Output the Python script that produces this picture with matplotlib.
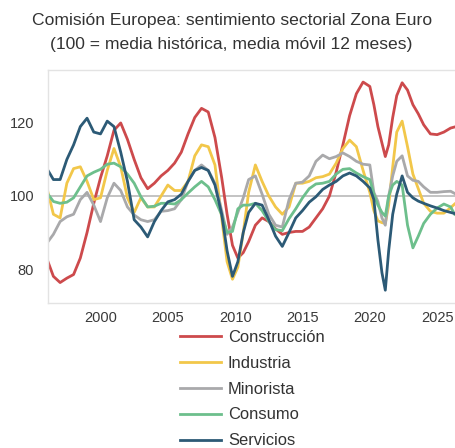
import matplotlib
matplotlib.use("Agg")
import matplotlib.pyplot as plt

plt.rcParams['font.family'] = ['Liberation Sans', 'DejaVu Sans']

years = [1996.1, 1996.5, 1997.0, 1997.5, 1998.0, 1998.5, 1999.0, 1999.5, 2000.0, 2000.5,
         2001.0, 2001.5, 2002.0, 2002.5, 2003.0, 2003.5, 2004.0, 2004.5, 2005.0, 2005.5,
         2006.0, 2006.5, 2007.0, 2007.5, 2008.0, 2008.5, 2009.0, 2009.4, 2009.8, 2010.2,
         2010.6, 2011.0, 2011.5, 2012.0, 2012.5, 2013.0, 2013.5, 2014.0, 2014.5, 2015.0,
         2015.5, 2016.0, 2016.5, 2017.0, 2017.5, 2018.0, 2018.5, 2019.0, 2019.5, 2020.0,
         2020.3, 2020.6, 2020.9, 2021.15, 2021.4, 2021.7, 2022.0, 2022.4, 2022.8, 2023.2,
         2023.6, 2024.0, 2024.5, 2025.0, 2025.5, 2026.0, 2026.3]

construccion = [82, 78, 76.3, 77.5, 78.5, 83, 90, 98, 105, 111,
                118, 120, 115.5, 110, 105, 102, 103.5, 105.5, 107, 109,
                112, 117, 121.5, 124, 123, 116, 105, 95, 86.5, 83,
                84.5, 87.5, 92, 94, 93, 91, 89.5, 90, 90.3, 90.3,
                91.5, 94, 96.5, 100, 106.5, 114, 122, 128, 131.2, 130,
                125, 119, 114.5, 110.8, 114, 121.5, 127.5, 131, 129, 125,
                122.5, 119.5, 117, 116.8, 117.5, 118.6, 118.9]

industria = [101, 95, 94, 103.5, 107.5, 108, 104, 99, 99.5, 107,
             113, 108, 99.5, 95.5, 99.5, 97, 97, 100, 103, 101.5,
             101.5, 104, 111, 114, 113.5, 108.5, 94, 82, 77.2, 80.5,
             90, 101, 108.5, 104, 100, 97, 95, 97, 103.5, 103.5,
             104, 105, 105.3, 106, 109, 113, 115.3, 113.5, 107, 101,
             96, 93.2, 92.7, 92.5, 97.5, 108, 117.5, 120.5, 113.5, 106,
             102, 98, 95.8, 95.3, 95.3, 96.8, 97.8]

minorista = [87.5, 89.5, 93, 94.3, 95, 99, 101, 97.5, 93, 99.5,
             103.5, 101.5, 97, 94.8, 93.5, 93, 93.5, 95.8, 96, 96.5,
             99, 104, 107, 108.5, 107, 103.5, 96, 89.5, 91.5, 95.5,
             99.5, 104.5, 105.5, 100.5, 95, 92, 91.5, 99, 103.5, 103.8,
             105.5, 109.5, 111.2, 110.2, 110.8, 111.8, 110.8, 109.5, 108.7, 108.5,
             101, 98.5, 94, 92, 100, 105.5, 109.5, 111, 105.5, 104.3,
             104, 102.5, 101, 101, 101.2, 101.3, 100.7]

consumo = [100.5, 98.5, 98, 98.3, 99.5, 102.5, 105.5, 106.5, 107.3, 108.7,
           109, 108, 106, 103.5, 99.8, 97, 97.2, 98, 98, 97.8,
           99, 100.8, 102.5, 104, 102.5, 99, 94.8, 90, 90.3, 96.5,
           97.5, 97.5, 98, 96, 93, 90.8, 90.5, 93.8, 96.5, 99.5,
           102, 103.3, 103.5, 104, 106, 107.3, 107.5, 106.3, 105.3, 104.5,
           100.5, 97.5, 95.5, 94.5, 100, 103, 104, 103, 92, 85.8,
           89, 92.5, 95, 96.7, 97.8, 97, 95]

servicios = [107, 104.5, 104.5, 110, 114, 119, 121.3, 117.5, 117, 120.5,
             119, 112, 104, 93.5, 91.5, 88.8, 93, 96, 98.4, 99,
             100.5, 104, 107, 107.8, 107, 103, 95, 85, 78, 82,
             90, 95.5, 98, 97.5, 93.5, 89, 86.2, 90, 94, 96,
             98.3, 99.8, 101.8, 103, 104, 105.5, 106.3, 105.5, 104, 102.2,
             99, 88, 79, 74.2, 85, 95, 100.5, 105.5, 101, 99.5,
             98.6, 98, 97.3, 96.7, 96, 95.5, 95.2]

series = [
    ("Construcción", construccion, "#cd4a4c"),
    ("Industria", industria, "#f2c74a"),
    ("Minorista", minorista, "#a9a9ab"),
    ("Consumo", consumo, "#6dbf8c"),
    ("Servicios", servicios, "#2c5a76"),
]

fig = plt.figure(figsize=(4.56, 4.48), dpi=100)
ax = fig.add_axes([48/456, 1 - 303/448, 408/456, 233/448])

ax.axhline(100, color="#b3b3b3", lw=1.1, zorder=1)
for name, vals, col in series:
    ax.plot(years, vals, color=col, lw=2.0, label=name, zorder=2)

ax.set_xlim(1996.1, 2026.4)
ax.set_ylim(70.7, 134.5)
ax.set_xticks([2000, 2005, 2010, 2015, 2020, 2025])
ax.set_yticks([80, 100, 120])
ax.tick_params(length=0, labelsize=10.5, labelcolor="#3a3a3a")
ax.tick_params(axis="x", pad=6)
ax.tick_params(axis="y", pad=10)
for s in ax.spines.values():
    s.set_color("#e3e3e3")
    s.set_linewidth(1)

fig.text(0.508, 1 - 13/448,
         "Comisión Europea: sentimiento sectorial Zona Euro\n(100 = media histórica, media móvil 12 meses)",
         ha="center", va="top", fontsize=12.6, color="#333333", linespacing=1.72)

handles, labels = ax.get_legend_handles_labels()
fig.legend(handles, labels, loc="upper left", bbox_to_anchor=(180/456, 1 - 330/448),
           frameon=False, fontsize=11.9, borderpad=0, borderaxespad=0, handlelength=2.48,
           handletextpad=0.42, labelspacing=0.655, labelcolor="#333333")

fig.savefig("out.png", dpi=100)
